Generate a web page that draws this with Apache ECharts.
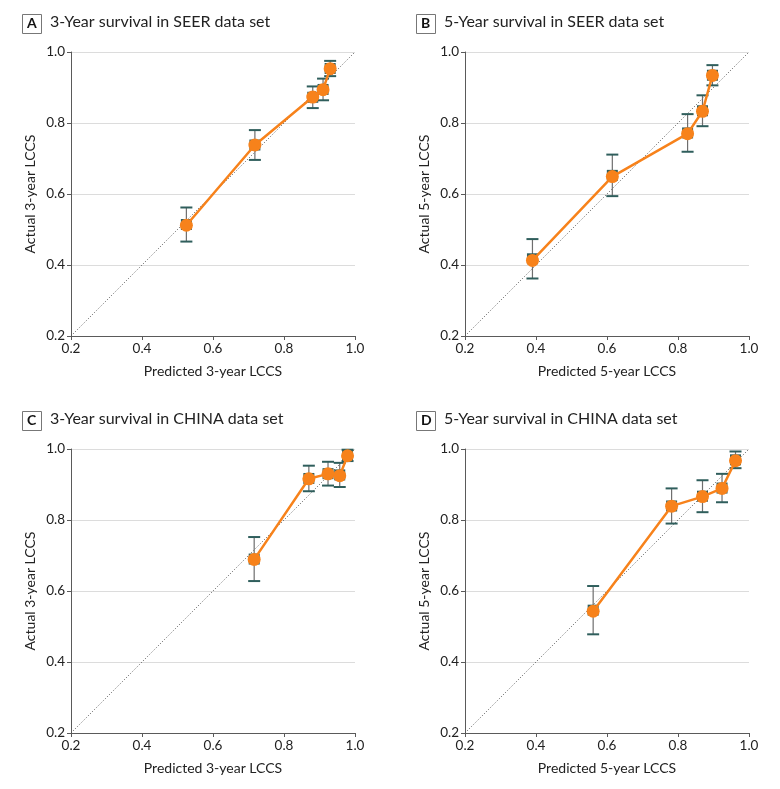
<!DOCTYPE html>
<html>
<head>
<meta charset="utf-8">
<script src="https://cdn.jsdelivr.net/npm/echarts@6/dist/echarts.min.js"></script>
<style>
  html, body { margin: 0; padding: 0; background: #fff; }
  #chart { width: 780px; height: 789px; }
</style>
</head>
<body>
<div id="chart"></div>
<script>
// panel texts
const panelLetters = ['A', 'B', 'C', 'D'];
const panelTitles = [
    '3-Year survival in SEER data set',
    '5-Year survival in SEER data set',
    '3-Year survival in CHINA data set',
    '5-Year survival in CHINA data set'
];
const xNames = ['Predicted 3-year LCCS', 'Predicted 5-year LCCS', 'Predicted 3-year LCCS', 'Predicted 5-year LCCS'];
const yNames = ['Actual 3-year LCCS', 'Actual 5-year LCCS', 'Actual 3-year LCCS', 'Actual 5-year LCCS'];

// axis ticks
const axisTicks = [0.2, 0.4, 0.6, 0.8, 1.0];
const diagRef = [0.2, 1.0];

// predicted, actual, lower CI, upper CI
const predA = [0.525, 0.718, 0.881, 0.910, 0.930];
const actA = [0.512, 0.738, 0.873, 0.894, 0.953];
const lowA = [0.466, 0.696, 0.842, 0.864, 0.932];
const highA = [0.562, 0.780, 0.903, 0.925, 0.975];

const predB = [0.390, 0.615, 0.827, 0.869, 0.897];
const actB = [0.413, 0.649, 0.770, 0.833, 0.934];
const lowB = [0.362, 0.594, 0.719, 0.791, 0.906];
const highB = [0.473, 0.711, 0.825, 0.878, 0.963];

const predC = [0.716, 0.870, 0.924, 0.957, 0.979];
const actC = [0.689, 0.916, 0.930, 0.925, 0.981];
const lowC = [0.628, 0.881, 0.897, 0.893, 0.966];
const highC = [0.752, 0.953, 0.964, 0.961, 0.998];

const predD = [0.561, 0.782, 0.869, 0.924, 0.962];
const actD = [0.543, 0.839, 0.866, 0.889, 0.967];
const lowD = [0.478, 0.790, 0.822, 0.850, 0.946];
const highD = [0.614, 0.889, 0.912, 0.930, 0.993];

const panels = [
    { pred: predA, act: actA, low: lowA, high: highA },
    { pred: predB, act: actB, low: lowB, high: highB },
    { pred: predC, act: actC, low: lowC, high: highC },
    { pred: predD, act: actD, low: lowD, high: highD }
];

// layout (px)
const gridPos = [
    { left: 71, top: 52 },
    { left: 465, top: 52 },
    { left: 71, top: 449 },
    { left: 465, top: 449 }
];
const plotSize = 284;

const orange = '#F7821B';
const teal = '#2F5E5C';
const barGray = '#6E6E6E';
const axisGray = '#5A5A5A';
const font = 'Lato';

const chart = echarts.init(document.getElementById('chart'));

const grids = [];
const xAxes = [];
const yAxes = [];
const series = [];
const graphics = [];

panels.forEach((p, i) => {
    grids.push({ left: gridPos[i].left, top: gridPos[i].top, width: plotSize, height: plotSize });

    xAxes.push({
        gridIndex: i,
        type: 'value',
        min: axisTicks[0],
        max: axisTicks[axisTicks.length - 1],
        interval: 0.2,
        name: xNames[i],
        nameLocation: 'middle',
        nameGap: 28,
        nameTextStyle: { fontFamily: font, fontSize: 14, color: '#222' },
        axisLine: { show: true, lineStyle: { color: axisGray, width: 1 } },
        axisTick: { show: true, length: 4, lineStyle: { color: axisGray } },
        axisLabel: { fontFamily: font, fontSize: 13.5, color: '#222', margin: 6, formatter: v => v.toFixed(1) },
        splitLine: { show: false }
    });

    yAxes.push({
        gridIndex: i,
        type: 'value',
        min: axisTicks[0],
        max: axisTicks[axisTicks.length - 1],
        interval: 0.2,
        name: yNames[i],
        nameLocation: 'middle',
        nameGap: 34,
        nameTextStyle: { fontFamily: font, fontSize: 14, color: '#222' },
        axisLine: { show: true, lineStyle: { color: axisGray, width: 1 } },
        axisTick: { show: true, length: 4, lineStyle: { color: axisGray } },
        axisLabel: { fontFamily: font, fontSize: 13.5, color: '#222', margin: 6, formatter: v => v.toFixed(1) },
        splitLine: { show: true, lineStyle: { color: '#DCDCDC', width: 1 } }
    });

    // 對角參考線
    series.push({
        type: 'line',
        xAxisIndex: i,
        yAxisIndex: i,
        data: [[diagRef[0], diagRef[0]], [diagRef[1], diagRef[1]]],
        symbol: 'none',
        silent: true,
        lineStyle: { color: '#555', width: 1, type: [1, 2] },
        z: 1
    });

    // 誤差線 + 觀察值方塊
    series.push({
        type: 'custom',
        xAxisIndex: i,
        yAxisIndex: i,
        data: p.pred.map((x, k) => [x, p.low[k], p.high[k]]),
        renderItem: (params, api) => {
            const x = api.value(0);
            const lo = api.coord([x, api.value(1)]);
            const hi = api.coord([x, api.value(2)]);
            const mid = api.coord([x, (api.value(1) + api.value(2)) / 2]);
            const cap = 6;
            const sq = 5.5;
            return {
                type: 'group',
                children: [
                    { type: 'line', shape: { x1: lo[0], y1: lo[1], x2: hi[0], y2: hi[1] }, style: { stroke: barGray, lineWidth: 1.2 } },
                    { type: 'line', shape: { x1: lo[0] - cap, y1: lo[1], x2: lo[0] + cap, y2: lo[1] }, style: { stroke: teal, lineWidth: 2 } },
                    { type: 'line', shape: { x1: hi[0] - cap, y1: hi[1], x2: hi[0] + cap, y2: hi[1] }, style: { stroke: teal, lineWidth: 2 } },
                    { type: 'rect', shape: { x: mid[0] - sq, y: mid[1] - sq, width: sq * 2, height: sq * 2 }, style: { fill: teal } }
                ]
            };
        },
        z: 2
    });

    // 校準曲線
    series.push({
        type: 'line',
        xAxisIndex: i,
        yAxisIndex: i,
        data: p.pred.map((x, k) => [x, p.act[k]]),
        symbol: 'circle',
        symbolSize: 13,
        showSymbol: true,
        itemStyle: { color: orange },
        lineStyle: { color: orange, width: 2.5 },
        z: 3
    });

    // panel label box + title
    const bx = gridPos[i].left - 49;
    const by = gridPos[i].top - 38;
    graphics.push({
        type: 'rect',
        left: bx,
        top: by,
        shape: { width: 19, height: 19 },
        style: { fill: '#fff', stroke: '#777', lineWidth: 1 }
    });
    graphics.push({
        type: 'text',
        left: bx + 5,
        top: by + 2,
        style: { text: panelLetters[i], font: 'bold 14px ' + font, fill: '#111' }
    });
    graphics.push({
        type: 'text',
        left: bx + 28,
        top: by + 0,
        style: { text: panelTitles[i], font: '16px ' + font, fill: '#222' }
    });
});

const option = {
    backgroundColor: '#fff',
    animation: false,
    grid: grids,
    xAxis: xAxes,
    yAxis: yAxes,
    series: series,
    graphic: graphics
};

chart.setOption(option);
</script>
</body>
</html>
